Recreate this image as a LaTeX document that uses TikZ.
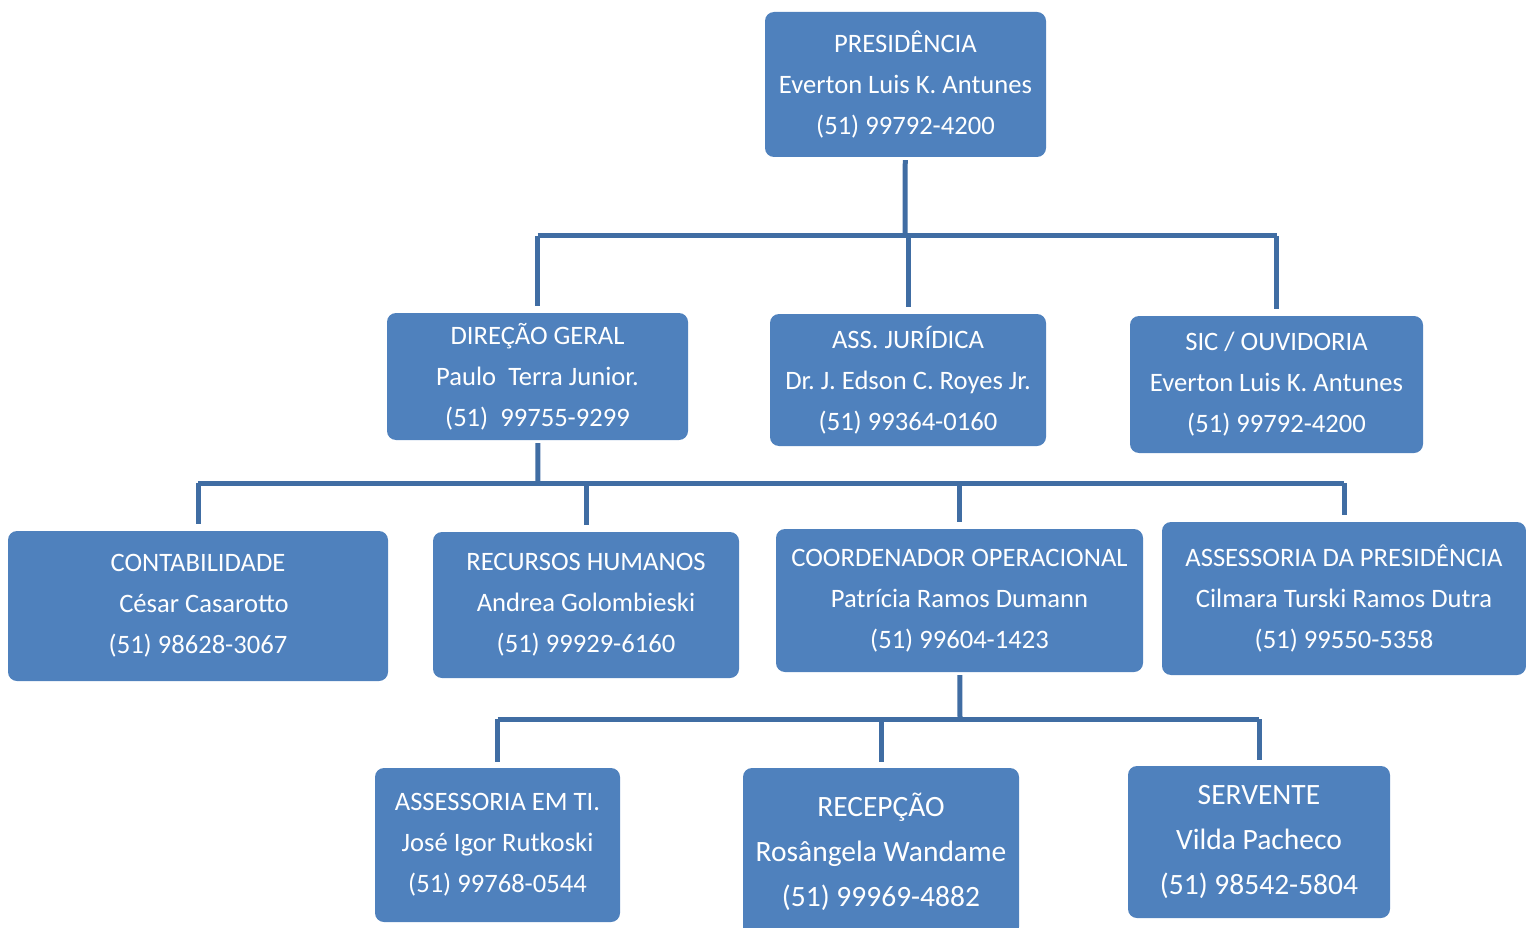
\documentclass[tikz,border=0pt]{standalone}
\usepackage{fontspec}
\setmainfont{Carlito}
\frenchspacing
\definecolor{boxblue}{HTML}{4F81BD}
\definecolor{linkblue}{HTML}{406DA3}
\tikzset{
  box/.style={rounded corners=9pt, fill=boxblue, text=white, align=center, inner sep=0pt,
    font=\fontsize{26.6}{41}\selectfont},
  bigbox/.style={box, font=\fontsize{29.5}{45}\selectfont},
  link/.style={draw=linkblue, line width=5pt},
}
\begin{document}
\begin{tikzpicture}[x=1pt,y=-1pt]
\useasboundingbox (0,0) rectangle (1526,928);
% top
\node[box, minimum width=281pt, minimum height=145pt] (pres) at (905.5,84.5) {PRESIDÊNCIA\\Everton Luis K. Antunes\\(51) 99792-4200};
% second row
\node[box, minimum width=301pt, minimum height=127pt] (dir) at (537.5,376.5) {DIREÇÃO GERAL\\Paulo\ \ Terra Junior.\\(51)\ \ 99755-9299};
\node[box, minimum width=276pt, minimum height=132pt] (jur) at (908,380) {ASS. JURÍDICA\\Dr. J. Edson C. Royes Jr.\\(51) 99364-0160};
\node[box, minimum width=293pt, minimum height=137pt] (sic) at (1276.5,384.5) {SIC / OUVIDORIA\\Everton Luis K. Antunes\\(51) 99792-4200};
% third row
\node[box, minimum width=380pt, minimum height=150pt] (cont) at (198,606) {CONTABILIDADE\\\hspace*{12pt}César Casarotto\\(51) 98628-3067};
\node[box, minimum width=306pt, minimum height=146pt] (rh) at (586,605) {RECURSOS HUMANOS\\Andrea Golombieski\\(51) 99929-6160};
\node[box, minimum width=367pt, minimum height=143pt] (coord) at (959.5,600.5) {COORDENADOR OPERACIONAL\\Patrícia Ramos Dumann\\(51) 99604-1423};
\node[box, minimum width=364pt, minimum height=153pt] (asspres) at (1344,598.5) {ASSESSORIA DA PRESIDÊNCIA\\Cilmara Turski Ramos Dutra\\(51) 99550-5358};
% fourth row
\node[box, minimum width=245pt, minimum height=154pt] (ti) at (497.5,845) {ASSESSORIA EM TI.\\José Igor Rutkoski\\(51) 99768-0544};
\node[bigbox, minimum width=276pt, minimum height=168pt] (rec) at (881,852) {RECEPÇÃO\\Rosângela Wandame\\(51) 99969-4882};
\node[bigbox, minimum width=262pt, minimum height=152pt] (serv) at (1259,842) {SERVENTE\\Vilda Pacheco\\(51) 98542-5804};
% connectors
\coordinate (bus1) at (905,236);
\coordinate (bus2) at (538,483);
\coordinate (bus3) at (960,719);
\draw[link, shorten <=3pt] (pres) -- (bus1);
\draw[link] (bus1 -| dir) -- (bus1 -| sic);
\draw[link, shorten >=7pt] (bus1 -| dir) -- (dir);
\draw[link, shorten >=7pt] (bus1 -| jur) -- (jur);
\draw[link, shorten >=7pt] (bus1 -| sic) -- (sic);
\draw[link, shorten <=3pt] (dir) -- (bus2);
\draw[link] (bus2 -| cont) -- (bus2 -| asspres);
\draw[link, shorten >=7pt] (bus2 -| cont) -- (cont);
\draw[link, shorten >=7pt] (bus2 -| rh) -- (rh);
\draw[link, shorten >=7pt] (bus2 -| coord) -- (coord);
\draw[link, shorten >=7pt] (bus2 -| asspres) -- (asspres);
\draw[link, shorten <=3pt] (coord) -- (bus3);
\draw[link] (bus3 -| ti) -- (bus3 -| serv);
\draw[link, shorten >=6pt] (bus3 -| ti) -- (ti);
\draw[link, shorten >=6pt] (bus3 -| rec) -- (rec);
\draw[link, shorten >=6pt] (bus3 -| serv) -- (serv);
\end{tikzpicture}
\end{document}
